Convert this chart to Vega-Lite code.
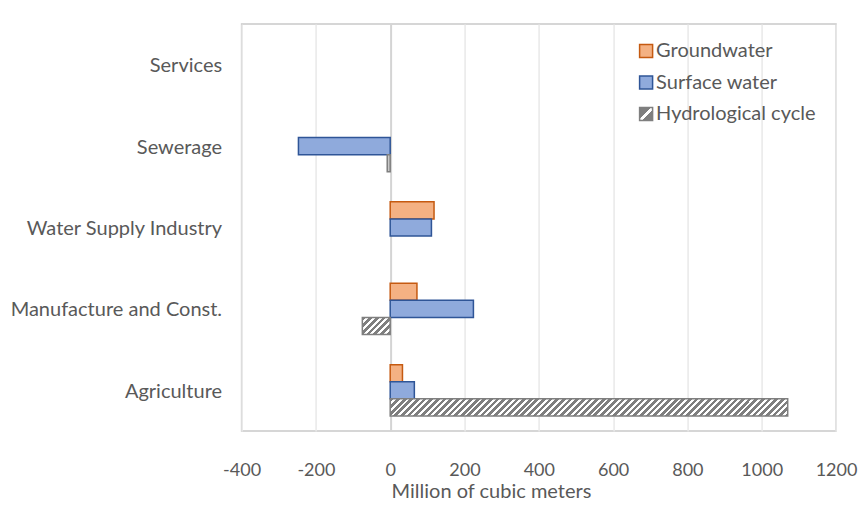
{
  "$schema": "https://vega.github.io/schema/vega-lite/v6.json",
  "width": 594.4,
  "height": 407,
  "autosize": {"type": "none"},
  "padding": {"left": 241.6, "top": 24, "right": 25, "bottom": 76},
  "background": "white",
  "config": {
    "font": "Lato",
    "view": {"stroke": "#c9c9c9", "strokeWidth": 1.5},
    "axis": {
      "ticks": false,
      "tickSize": 0,
      "domain": false,
      "labelColor": "#595959",
      "labelFont": "Lato",
      "labelFontSize": 20,
      "titleColor": "#595959",
      "titleFont": "Lato",
      "titleFontSize": 20,
      "titleFontWeight": "normal"
    },
    "legend": {
      "orient": "none",
      "legendX": 394.5,
      "legendY": 17,
      "padding": 0,
      "symbolType": "square",
      "symbolSize": 169,
      "symbolStrokeWidth": 1.5,
      "labelFont": "Lato",
      "labelFontSize": 20,
      "labelColor": "#595959",
      "labelOffset": 0,
      "rowPadding": 11.5
    }
  },
  "data": {
    "values": [
      {"sector": "Agriculture", "source": "Groundwater", "value": 33},
      {"sector": "Agriculture", "source": "Surface water", "value": 65},
      {"sector": "Agriculture", "source": "Hydrological cycle", "value": 1070},
      {"sector": "Manufacture and Const.", "source": "Groundwater", "value": 72},
      {"sector": "Manufacture and Const.", "source": "Surface water", "value": 224},
      {"sector": "Manufacture and Const.", "source": "Hydrological cycle", "value": -75},
      {"sector": "Water Supply Industry", "source": "Groundwater", "value": 118},
      {"sector": "Water Supply Industry", "source": "Surface water", "value": 111},
      {"sector": "Water Supply Industry", "source": "Hydrological cycle", "value": 0},
      {"sector": "Sewerage", "source": "Groundwater", "value": 0},
      {"sector": "Sewerage", "source": "Surface water", "value": -247},
      {"sector": "Sewerage", "source": "Hydrological cycle", "value": -8},
      {"sector": "Services", "source": "Groundwater", "value": 0},
      {"sector": "Services", "source": "Surface water", "value": 0},
      {"sector": "Services", "source": "Hydrological cycle", "value": 0}
    ]
  },
  "encoding": {
    "x": {
      "field": "value",
      "type": "quantitative",
      "scale": {"domain": [-400, 1200], "nice": false, "zero": false},
      "axis": {
        "values": [-400, -200, 0, 200, 400, 600, 800, 1000, 1200],
        "labelExpr": "datum.value + ''",
        "labelOverlap": false,
        "labelFlush": false,
        "labelFontSize": 18,
        "title": "Million of cubic meters",
        "grid": true,
        "gridColor": {"condition": {"test": "datum.value === 0", "value": "#d4d4d4"}, "value": "#e9e9e9"},
        "gridWidth": {"condition": {"test": "datum.value === 0", "value": 2}, "value": 1.5},
        "labelPadding": 30,
        "titleX": 249.4,
        "titleY": 66,
        "titleBaseline": "alphabetic",
        "titleAnchor": null
      }
    },
    "y": {
      "field": "sector",
      "type": "nominal",
      "scale": {
        "domain": ["Services", "Sewerage", "Water Supply Industry", "Manufacture and Const.", "Agriculture"],
        "paddingInner": 0.37,
        "paddingOuter": 0.185
      },
      "axis": {"title": null, "grid": false, "labelPadding": 20, "labelLimit": 300, "labelOffset": 1.5}
    },
    "yOffset": {
      "field": "source",
      "type": "nominal",
      "scale": {"domain": ["Groundwater", "Surface water", "Hydrological cycle"], "paddingInner": 0, "paddingOuter": 0}
    },
    "stroke": {
      "field": "source",
      "type": "nominal",
      "scale": {"domain": ["Groundwater", "Surface water", "Hydrological cycle"], "range": ["#c55a11", "#2f5597", "#7f7f7f"]},
      "legend": {"title": null}
    },
    "strokeWidth": {"condition": {"test": "datum.value === 0", "value": 0}, "value": 1.5}
  },
  "layer": [
    {
      "transform": [{"filter": "datum.source !== 'Hydrological cycle'"}],
      "mark": {"type": "bar"},
      "encoding": {
        "fill": {
          "field": "source",
          "type": "nominal",
          "scale": {
            "domain": ["Groundwater", "Surface water", "Hydrological cycle"],
            "range": [
              "#f4b183",
              "#8faadc",
              {"expr": "{gradient: 'linear', x1: 0, y1: 0, x2: 1, y2: 1, stops: [{offset: 0, color: '#7f7f7f'}, {offset: 0.42, color: '#7f7f7f'}, {offset: 0.42, color: '#ffffff'}, {offset: 0.58, color: '#ffffff'}, {offset: 0.58, color: '#7f7f7f'}, {offset: 1, color: '#7f7f7f'}]}"}
            ]
          },
          "legend": {"title": null}
        }
      }
    },
    {
      "transform": [{"filter": "datum.source === 'Hydrological cycle'"}],
      "mark": {"type": "bar"},
      "encoding": {
        "fill": {
          "condition": [
            {
              "test": "datum.sector === 'Agriculture'",
              "value": {
                "gradient": "linear", "x1": 0, "y1": 0, "x2": 1.0411, "y2": 0.04476,
                "stops": [
                  {"offset": 0, "color": "#7f7f7f"}, {"offset": 0.009, "color": "#7f7f7f"}, {"offset": 0.009, "color": "#ffffff"}, {"offset": 0.016, "color": "#ffffff"},
                  {"offset": 0.016, "color": "#7f7f7f"}, {"offset": 0.025, "color": "#7f7f7f"}, {"offset": 0.025, "color": "#ffffff"}, {"offset": 0.032, "color": "#ffffff"},
                  {"offset": 0.032, "color": "#7f7f7f"}, {"offset": 0.041, "color": "#7f7f7f"}, {"offset": 0.041, "color": "#ffffff"}, {"offset": 0.048, "color": "#ffffff"},
                  {"offset": 0.048, "color": "#7f7f7f"}, {"offset": 0.057, "color": "#7f7f7f"}, {"offset": 0.057, "color": "#ffffff"}, {"offset": 0.064, "color": "#ffffff"},
                  {"offset": 0.064, "color": "#7f7f7f"}, {"offset": 0.073, "color": "#7f7f7f"}, {"offset": 0.073, "color": "#ffffff"}, {"offset": 0.08, "color": "#ffffff"},
                  {"offset": 0.08, "color": "#7f7f7f"}, {"offset": 0.089, "color": "#7f7f7f"}, {"offset": 0.089, "color": "#ffffff"}, {"offset": 0.096, "color": "#ffffff"},
                  {"offset": 0.096, "color": "#7f7f7f"}, {"offset": 0.105, "color": "#7f7f7f"}, {"offset": 0.105, "color": "#ffffff"}, {"offset": 0.112, "color": "#ffffff"},
                  {"offset": 0.112, "color": "#7f7f7f"}, {"offset": 0.121, "color": "#7f7f7f"}, {"offset": 0.121, "color": "#ffffff"}, {"offset": 0.128, "color": "#ffffff"},
                  {"offset": 0.128, "color": "#7f7f7f"}, {"offset": 0.137, "color": "#7f7f7f"}, {"offset": 0.137, "color": "#ffffff"}, {"offset": 0.144, "color": "#ffffff"},
                  {"offset": 0.144, "color": "#7f7f7f"}, {"offset": 0.153, "color": "#7f7f7f"}, {"offset": 0.153, "color": "#ffffff"}, {"offset": 0.16, "color": "#ffffff"},
                  {"offset": 0.16, "color": "#7f7f7f"}, {"offset": 0.169, "color": "#7f7f7f"}, {"offset": 0.169, "color": "#ffffff"}, {"offset": 0.176, "color": "#ffffff"},
                  {"offset": 0.176, "color": "#7f7f7f"}, {"offset": 0.185, "color": "#7f7f7f"}, {"offset": 0.185, "color": "#ffffff"}, {"offset": 0.192, "color": "#ffffff"},
                  {"offset": 0.192, "color": "#7f7f7f"}, {"offset": 0.201, "color": "#7f7f7f"}, {"offset": 0.201, "color": "#ffffff"}, {"offset": 0.208, "color": "#ffffff"},
                  {"offset": 0.208, "color": "#7f7f7f"}, {"offset": 0.217, "color": "#7f7f7f"}, {"offset": 0.217, "color": "#ffffff"}, {"offset": 0.224, "color": "#ffffff"},
                  {"offset": 0.224, "color": "#7f7f7f"}, {"offset": 0.233, "color": "#7f7f7f"}, {"offset": 0.233, "color": "#ffffff"}, {"offset": 0.24, "color": "#ffffff"},
                  {"offset": 0.24, "color": "#7f7f7f"}, {"offset": 0.249, "color": "#7f7f7f"}, {"offset": 0.249, "color": "#ffffff"}, {"offset": 0.256, "color": "#ffffff"},
                  {"offset": 0.256, "color": "#7f7f7f"}, {"offset": 0.265, "color": "#7f7f7f"}, {"offset": 0.265, "color": "#ffffff"}, {"offset": 0.272, "color": "#ffffff"},
                  {"offset": 0.272, "color": "#7f7f7f"}, {"offset": 0.281, "color": "#7f7f7f"}, {"offset": 0.281, "color": "#ffffff"}, {"offset": 0.288, "color": "#ffffff"},
                  {"offset": 0.288, "color": "#7f7f7f"}, {"offset": 0.297, "color": "#7f7f7f"}, {"offset": 0.297, "color": "#ffffff"}, {"offset": 0.304, "color": "#ffffff"},
                  {"offset": 0.304, "color": "#7f7f7f"}, {"offset": 0.313, "color": "#7f7f7f"}, {"offset": 0.313, "color": "#ffffff"}, {"offset": 0.32, "color": "#ffffff"},
                  {"offset": 0.32, "color": "#7f7f7f"}, {"offset": 0.329, "color": "#7f7f7f"}, {"offset": 0.329, "color": "#ffffff"}, {"offset": 0.336, "color": "#ffffff"},
                  {"offset": 0.336, "color": "#7f7f7f"}, {"offset": 0.345, "color": "#7f7f7f"}, {"offset": 0.345, "color": "#ffffff"}, {"offset": 0.352, "color": "#ffffff"},
                  {"offset": 0.352, "color": "#7f7f7f"}, {"offset": 0.361, "color": "#7f7f7f"}, {"offset": 0.361, "color": "#ffffff"}, {"offset": 0.368, "color": "#ffffff"},
                  {"offset": 0.368, "color": "#7f7f7f"}, {"offset": 0.377, "color": "#7f7f7f"}, {"offset": 0.377, "color": "#ffffff"}, {"offset": 0.384, "color": "#ffffff"},
                  {"offset": 0.384, "color": "#7f7f7f"}, {"offset": 0.393, "color": "#7f7f7f"}, {"offset": 0.393, "color": "#ffffff"}, {"offset": 0.4, "color": "#ffffff"},
                  {"offset": 0.4, "color": "#7f7f7f"}, {"offset": 0.409, "color": "#7f7f7f"}, {"offset": 0.409, "color": "#ffffff"}, {"offset": 0.416, "color": "#ffffff"},
                  {"offset": 0.416, "color": "#7f7f7f"}, {"offset": 0.425, "color": "#7f7f7f"}, {"offset": 0.425, "color": "#ffffff"}, {"offset": 0.432, "color": "#ffffff"},
                  {"offset": 0.432, "color": "#7f7f7f"}, {"offset": 0.441, "color": "#7f7f7f"}, {"offset": 0.441, "color": "#ffffff"}, {"offset": 0.448, "color": "#ffffff"},
                  {"offset": 0.448, "color": "#7f7f7f"}, {"offset": 0.457, "color": "#7f7f7f"}, {"offset": 0.457, "color": "#ffffff"}, {"offset": 0.464, "color": "#ffffff"},
                  {"offset": 0.464, "color": "#7f7f7f"}, {"offset": 0.473, "color": "#7f7f7f"}, {"offset": 0.473, "color": "#ffffff"}, {"offset": 0.48, "color": "#ffffff"},
                  {"offset": 0.48, "color": "#7f7f7f"}, {"offset": 0.489, "color": "#7f7f7f"}, {"offset": 0.489, "color": "#ffffff"}, {"offset": 0.496, "color": "#ffffff"},
                  {"offset": 0.496, "color": "#7f7f7f"}, {"offset": 0.505, "color": "#7f7f7f"}, {"offset": 0.505, "color": "#ffffff"}, {"offset": 0.512, "color": "#ffffff"},
                  {"offset": 0.512, "color": "#7f7f7f"}, {"offset": 0.521, "color": "#7f7f7f"}, {"offset": 0.521, "color": "#ffffff"}, {"offset": 0.528, "color": "#ffffff"},
                  {"offset": 0.528, "color": "#7f7f7f"}, {"offset": 0.537, "color": "#7f7f7f"}, {"offset": 0.537, "color": "#ffffff"}, {"offset": 0.544, "color": "#ffffff"},
                  {"offset": 0.544, "color": "#7f7f7f"}, {"offset": 0.553, "color": "#7f7f7f"}, {"offset": 0.553, "color": "#ffffff"}, {"offset": 0.56, "color": "#ffffff"},
                  {"offset": 0.56, "color": "#7f7f7f"}, {"offset": 0.569, "color": "#7f7f7f"}, {"offset": 0.569, "color": "#ffffff"}, {"offset": 0.576, "color": "#ffffff"},
                  {"offset": 0.576, "color": "#7f7f7f"}, {"offset": 0.585, "color": "#7f7f7f"}, {"offset": 0.585, "color": "#ffffff"}, {"offset": 0.592, "color": "#ffffff"},
                  {"offset": 0.592, "color": "#7f7f7f"}, {"offset": 0.601, "color": "#7f7f7f"}, {"offset": 0.601, "color": "#ffffff"}, {"offset": 0.608, "color": "#ffffff"},
                  {"offset": 0.608, "color": "#7f7f7f"}, {"offset": 0.617, "color": "#7f7f7f"}, {"offset": 0.617, "color": "#ffffff"}, {"offset": 0.624, "color": "#ffffff"},
                  {"offset": 0.624, "color": "#7f7f7f"}, {"offset": 0.633, "color": "#7f7f7f"}, {"offset": 0.633, "color": "#ffffff"}, {"offset": 0.64, "color": "#ffffff"},
                  {"offset": 0.64, "color": "#7f7f7f"}, {"offset": 0.649, "color": "#7f7f7f"}, {"offset": 0.649, "color": "#ffffff"}, {"offset": 0.656, "color": "#ffffff"},
                  {"offset": 0.656, "color": "#7f7f7f"}, {"offset": 0.665, "color": "#7f7f7f"}, {"offset": 0.665, "color": "#ffffff"}, {"offset": 0.672, "color": "#ffffff"},
                  {"offset": 0.672, "color": "#7f7f7f"}, {"offset": 0.681, "color": "#7f7f7f"}, {"offset": 0.681, "color": "#ffffff"}, {"offset": 0.688, "color": "#ffffff"},
                  {"offset": 0.688, "color": "#7f7f7f"}, {"offset": 0.697, "color": "#7f7f7f"}, {"offset": 0.697, "color": "#ffffff"}, {"offset": 0.704, "color": "#ffffff"},
                  {"offset": 0.704, "color": "#7f7f7f"}, {"offset": 0.713, "color": "#7f7f7f"}, {"offset": 0.713, "color": "#ffffff"}, {"offset": 0.72, "color": "#ffffff"},
                  {"offset": 0.72, "color": "#7f7f7f"}, {"offset": 0.729, "color": "#7f7f7f"}, {"offset": 0.729, "color": "#ffffff"}, {"offset": 0.736, "color": "#ffffff"},
                  {"offset": 0.736, "color": "#7f7f7f"}, {"offset": 0.745, "color": "#7f7f7f"}, {"offset": 0.745, "color": "#ffffff"}, {"offset": 0.752, "color": "#ffffff"},
                  {"offset": 0.752, "color": "#7f7f7f"}, {"offset": 0.761, "color": "#7f7f7f"}, {"offset": 0.761, "color": "#ffffff"}, {"offset": 0.768, "color": "#ffffff"},
                  {"offset": 0.768, "color": "#7f7f7f"}, {"offset": 0.777, "color": "#7f7f7f"}, {"offset": 0.777, "color": "#ffffff"}, {"offset": 0.784, "color": "#ffffff"},
                  {"offset": 0.784, "color": "#7f7f7f"}, {"offset": 0.793, "color": "#7f7f7f"}, {"offset": 0.793, "color": "#ffffff"}, {"offset": 0.8, "color": "#ffffff"},
                  {"offset": 0.8, "color": "#7f7f7f"}, {"offset": 0.809, "color": "#7f7f7f"}, {"offset": 0.809, "color": "#ffffff"}, {"offset": 0.816, "color": "#ffffff"},
                  {"offset": 0.816, "color": "#7f7f7f"}, {"offset": 0.825, "color": "#7f7f7f"}, {"offset": 0.825, "color": "#ffffff"}, {"offset": 0.832, "color": "#ffffff"},
                  {"offset": 0.832, "color": "#7f7f7f"}, {"offset": 0.841, "color": "#7f7f7f"}, {"offset": 0.841, "color": "#ffffff"}, {"offset": 0.848, "color": "#ffffff"},
                  {"offset": 0.848, "color": "#7f7f7f"}, {"offset": 0.857, "color": "#7f7f7f"}, {"offset": 0.857, "color": "#ffffff"}, {"offset": 0.864, "color": "#ffffff"},
                  {"offset": 0.864, "color": "#7f7f7f"}, {"offset": 0.873, "color": "#7f7f7f"}, {"offset": 0.873, "color": "#ffffff"}, {"offset": 0.88, "color": "#ffffff"},
                  {"offset": 0.88, "color": "#7f7f7f"}, {"offset": 0.889, "color": "#7f7f7f"}, {"offset": 0.889, "color": "#ffffff"}, {"offset": 0.896, "color": "#ffffff"},
                  {"offset": 0.896, "color": "#7f7f7f"}, {"offset": 0.905, "color": "#7f7f7f"}, {"offset": 0.905, "color": "#ffffff"}, {"offset": 0.912, "color": "#ffffff"},
                  {"offset": 0.912, "color": "#7f7f7f"}, {"offset": 0.921, "color": "#7f7f7f"}, {"offset": 0.921, "color": "#ffffff"}, {"offset": 0.928, "color": "#ffffff"},
                  {"offset": 0.928, "color": "#7f7f7f"}, {"offset": 0.937, "color": "#7f7f7f"}, {"offset": 0.937, "color": "#ffffff"}, {"offset": 0.944, "color": "#ffffff"},
                  {"offset": 0.944, "color": "#7f7f7f"}, {"offset": 0.953, "color": "#7f7f7f"}, {"offset": 0.953, "color": "#ffffff"}, {"offset": 0.96, "color": "#ffffff"},
                  {"offset": 0.96, "color": "#7f7f7f"}, {"offset": 0.969, "color": "#7f7f7f"}, {"offset": 0.969, "color": "#ffffff"}, {"offset": 0.976, "color": "#ffffff"},
                  {"offset": 0.976, "color": "#7f7f7f"}, {"offset": 0.985, "color": "#7f7f7f"}, {"offset": 0.985, "color": "#ffffff"}, {"offset": 0.992, "color": "#ffffff"},
                  {"offset": 0.992, "color": "#7f7f7f"}, {"offset": 1, "color": "#7f7f7f"}
                ]
              }
            },
            {
              "test": "datum.sector === 'Manufacture and Const.'",
              "value": {
                "gradient": "linear", "x1": 0, "y1": 0, "x2": 1.1722, "y2": 0.7191,
                "stops": [
                  {"offset": 0, "color": "#7f7f7f"}, {"offset": 0.084, "color": "#7f7f7f"}, {"offset": 0.084, "color": "#ffffff"}, {"offset": 0.15, "color": "#ffffff"},
                  {"offset": 0.15, "color": "#7f7f7f"}, {"offset": 0.234, "color": "#7f7f7f"}, {"offset": 0.234, "color": "#ffffff"}, {"offset": 0.3, "color": "#ffffff"},
                  {"offset": 0.3, "color": "#7f7f7f"}, {"offset": 0.384, "color": "#7f7f7f"}, {"offset": 0.384, "color": "#ffffff"}, {"offset": 0.45, "color": "#ffffff"},
                  {"offset": 0.45, "color": "#7f7f7f"}, {"offset": 0.534, "color": "#7f7f7f"}, {"offset": 0.534, "color": "#ffffff"}, {"offset": 0.6, "color": "#ffffff"},
                  {"offset": 0.6, "color": "#7f7f7f"}, {"offset": 0.684, "color": "#7f7f7f"}, {"offset": 0.684, "color": "#ffffff"}, {"offset": 0.75, "color": "#ffffff"},
                  {"offset": 0.75, "color": "#7f7f7f"}, {"offset": 0.834, "color": "#7f7f7f"}, {"offset": 0.834, "color": "#ffffff"}, {"offset": 0.9, "color": "#ffffff"},
                  {"offset": 0.9, "color": "#7f7f7f"}, {"offset": 0.984, "color": "#7f7f7f"}, {"offset": 0.984, "color": "#ffffff"}, {"offset": 1, "color": "#ffffff"}
                ]
              }
            }
          ],
          "value": "#c8c8c8"
        }
      }
    }
  ]
}
